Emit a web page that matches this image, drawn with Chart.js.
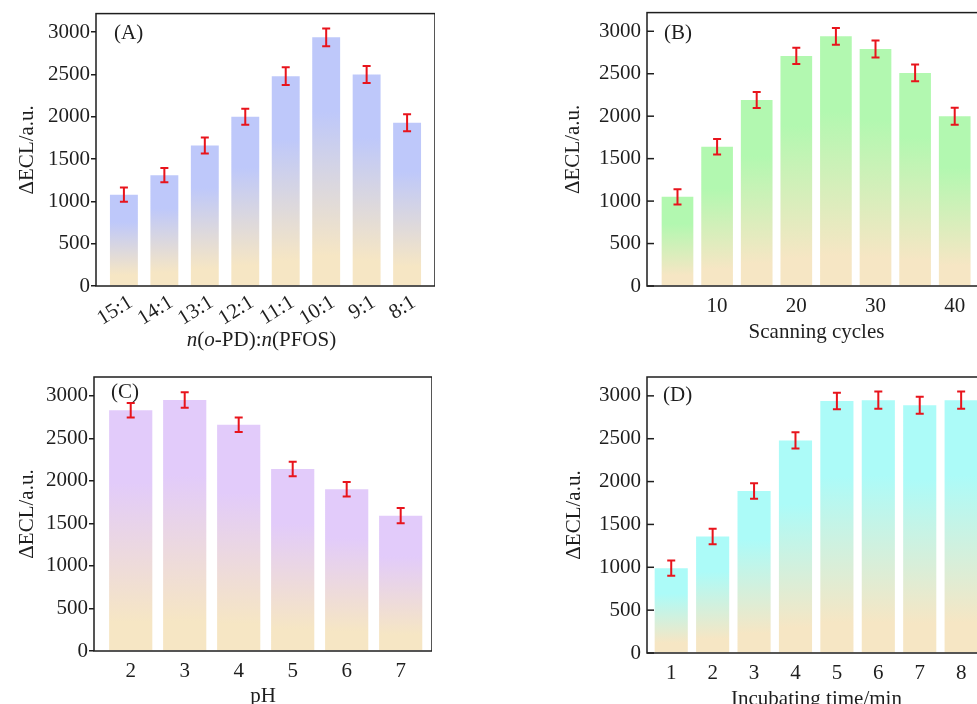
<!DOCTYPE html>
<html>
<head>
<meta charset="utf-8">
<script src="https://cdn.jsdelivr.net/npm/chart.js@4.4.1/dist/chart.umd.min.js"></script>
<style>
html, body { margin: 0; padding: 0; background: #fff; overflow: hidden; width: 977px; height: 704px; }
canvas { position: absolute; }
</style>
</head>
<body>
<canvas id="chartA"></canvas>
<canvas id="chartB"></canvas>
<canvas id="chartC"></canvas>
<canvas id="chartD"></canvas>
<script>
// (A) molar ratio
var ratioLabels = ['15:1', '14:1', '13:1', '12:1', '11:1', '10:1', '9:1', '8:1'];
var ratioX = [1, 2, 3, 4, 5, 6, 7, 8];
var ratioValues = [1080, 1310, 1660, 2000, 2480, 2940, 2500, 1930];
var ratioErrors = [85, 85, 95, 95, 105, 105, 100, 100];

// (B) scanning cycles
var cycleX = [5, 10, 15, 20, 25, 30, 35, 40];
var cycleTicks = [10, 20, 30, 40];
var cycleValues = [1050, 1640, 2190, 2710, 2940, 2790, 2510, 2000];
var cycleErrors = [90, 90, 95, 95, 100, 100, 100, 100];

// (C) pH
var phX = [2, 3, 4, 5, 6, 7];
var phValues = [2830, 2950, 2660, 2140, 1900, 1590];
var phErrors = [85, 90, 85, 85, 85, 90];

// (D) incubating time
var timeX = [1, 2, 3, 4, 5, 6, 7, 8];
var timeValues = [990, 1360, 1890, 2480, 2940, 2950, 2890, 2950];
var timeErrors = [90, 90, 90, 95, 95, 100, 100, 100];

var yTicks = [0, 500, 1000, 1500, 2000, 2500, 3000];
var yTitle = '\u0394ECL/a.u.';

var ink = '#1e1e1e';
var beige = '#f6e6c4';
var family = 'Liberation Serif';
var size = 21;

function barFill(top) {
    return function (c) {
        var chart = c.chart;
        if (!chart.chartArea || c.type !== 'data') return top;
        var y = chart.scales.y;
        var y1 = y.getPixelForValue(c.raw.y);
        var y0 = y.getPixelForValue(0);
        var g = chart.ctx.createLinearGradient(0, y1, 0, y0);
        g.addColorStop(0, top);
        g.addColorStop(0.3, top);
        g.addColorStop(0.88, beige);
        g.addColorStop(1, beige);
        return g;
    };
}

var decorate = {
    id: 'decorate',
    afterDatasetsDraw: function (chart, args, opts) {
        var ctx = chart.ctx;
        var area = chart.chartArea;
        var y = chart.scales.y;
        var meta = chart.getDatasetMeta(0);
        var points = chart.data.datasets[0].data;
        ctx.save();
        // error bars
        ctx.strokeStyle = '#e8141c';
        ctx.lineWidth = 2;
        meta.data.forEach(function (bar, i) {
            var v = points[i].y, e = opts.errors[i];
            var top = y.getPixelForValue(v + e), bot = y.getPixelForValue(v - e);
            ctx.beginPath();
            ctx.moveTo(bar.x, top); ctx.lineTo(bar.x, bot);
            ctx.moveTo(bar.x - 4, top); ctx.lineTo(bar.x + 4, top);
            ctx.moveTo(bar.x - 4, bot); ctx.lineTo(bar.x + 4, bot);
            ctx.stroke();
        });
        // frame
        ctx.strokeStyle = ink;
        ctx.lineWidth = 1.5;
        ctx.strokeRect(area.left, area.top, area.right - area.left, area.bottom - area.top);
        if (opts.innerTicks) {
            y.ticks.forEach(function (t) {
                var py = y.getPixelForValue(t.value);
                ctx.beginPath();
                ctx.moveTo(area.left, py);
                ctx.lineTo(area.left + 7, py);
                ctx.stroke();
            });
        }
        // panel tag
        ctx.fillStyle = ink;
        ctx.font = size + 'px "' + family + '"';
        ctx.textAlign = 'left';
        ctx.textBaseline = 'middle';
        ctx.fillText(opts.tag, area.left + opts.tagX, area.top + opts.tagY);
        // x title with italic parts
        if (opts.titleParts) {
            var widths = opts.titleParts.map(function (p) {
                ctx.font = (p[1] ? 'italic ' : '') + size + 'px "' + family + '"';
                return ctx.measureText(p[0]).width;
            });
            var total = widths.reduce(function (a, b) { return a + b; }, 0);
            var x = (area.left + area.right) / 2 - total / 2 + opts.titleShift;
            opts.titleParts.forEach(function (p, i) {
                ctx.font = (p[1] ? 'italic ' : '') + size + 'px "' + family + '"';
                ctx.fillText(p[0], x, opts.titleY);
                x += widths[i];
            });
        }
        ctx.restore();
    }
};

function makePanel(id, box, xs, values, cfg) {
    var canvas = document.getElementById(id);
    canvas.width = box.w;
    canvas.height = box.h;
    canvas.style.left = box.x + 'px';
    canvas.style.top = box.y + 'px';
    var points = xs.map(function (x, i) { return { x: x, y: values[i] }; });
    var outerTicks = !cfg.innerTicks;
    return new Chart(canvas, {
        type: 'bar',
        data: {
            datasets: [{
                data: points,
                backgroundColor: barFill(cfg.color),
                borderWidth: 0,
                barPercentage: cfg.barWidth,
                categoryPercentage: 1
            }]
        },
        options: {
            responsive: false,
            animation: false,
            events: [],
            layout: { padding: { top: box.padTop, left: 0, right: 0, bottom: 0 } },
            plugins: {
                legend: { display: false },
                tooltip: { enabled: false },
                decorate: {
                    errors: cfg.errors,
                    innerTicks: cfg.innerTicks,
                    tag: cfg.tag,
                    tagX: cfg.tagX,
                    tagY: cfg.tagY,
                    titleParts: cfg.titleParts,
                    titleY: cfg.titleY,
                    titleShift: cfg.titleShift || 0
                }
            },
            scales: {
                x: {
                    type: 'linear',
                    offset: false,
                    min: cfg.xMin,
                    max: cfg.xMax,
                    afterBuildTicks: function (s) {
                        s.ticks = cfg.xTicks.map(function (v) { return { value: v }; });
                    },
                    afterFit: function (s) { s.height = box.xh; },
                    grid: { display: false, drawTicks: false, offset: false },
                    border: { display: false },
                    ticks: {
                        autoSkip: false,
                        color: ink,
                        font: { family: family, size: size },
                        padding: cfg.xPad,
                        labelOffset: cfg.labelOffset || 0,
                        minRotation: cfg.rotation || 0,
                        maxRotation: cfg.rotation || 0,
                        callback: cfg.tickLabel || function (v) { return String(v); }
                    },
                    title: {
                        display: !!cfg.xTitle,
                        text: cfg.xTitle || '',
                        color: ink,
                        font: { family: family, size: size },
                        padding: { top: 4, bottom: 4 }
                    }
                },
                y: {
                    min: 0,
                    max: 3220,
                    afterBuildTicks: function (s) {
                        s.ticks = yTicks.map(function (v) { return { value: v }; });
                    },
                    afterFit: function (s) { s.width = box.yw; },
                    grid: {
                        display: true,
                        drawOnChartArea: false,
                        drawTicks: true,
                        tickLength: outerTicks ? 5 : 6,
                        color: outerTicks ? ink : 'rgba(0,0,0,0)',
                        lineWidth: 1.5
                    },
                    border: { display: false },
                    ticks: {
                        color: ink,
                        font: { family: family, size: size },
                        padding: outerTicks ? 1 : 0,
                        callback: function (v) { return String(v); }
                    },
                    title: {
                        display: true,
                        text: yTitle,
                        color: ink,
                        font: { family: family, size: size },
                        padding: { top: 4, bottom: 4 }
                    }
                }
            }
        },
        plugins: [decorate]
    });
}

makePanel('chartA', { x: 11, y: 0, w: 424, h: 356, padTop: 12, yw: 85, xh: 70 }, ratioX, ratioValues, {
    color: '#bec8fa', barWidth: 0.69, errors: ratioErrors,
    xMin: 0.31, xMax: 8.69, xTicks: ratioX, rotation: 32, xPad: 4, labelOffset: 7,
    tickLabel: function (v) { return ratioLabels[v - 1]; },
    titleParts: [['n', true], ['(', false], ['o', true], ['-PD):', false], ['n', true], ['(PFOS)', false]],
    titleY: 340, titleShift: -4,
    tag: '(A)', tagX: 18, tagY: 20
});

makePanel('chartB', { x: 557, y: 0, w: 429, h: 349, padTop: 11, yw: 90, xh: 63 }, cycleX, cycleValues, {
    color: '#b2f8b0', barWidth: 0.8, errors: cycleErrors, innerTicks: true,
    xMin: 1.15, xMax: 43.95, xTicks: cycleTicks, xPad: 8,
    xTitle: 'Scanning cycles',
    tag: '(B)', tagX: 17, tagY: 21
});

makePanel('chartC', { x: 11, y: 360, w: 421, h: 353, padTop: 17, yw: 83, xh: 62 }, phX, phValues, {
    color: '#e2cbfa', barWidth: 0.8, errors: phErrors,
    xMin: 1.32, xMax: 7.58, xTicks: phX, xPad: 8,
    xTitle: 'pH',
    tag: '(C)', tagX: 17, tagY: 15
});

makePanel('chartD', { x: 558, y: 360, w: 428, h: 356, padTop: 17, yw: 89, xh: 63 }, timeX, timeValues, {
    color: '#acfbf8', barWidth: 0.8, errors: timeErrors, innerTicks: true,
    xMin: 0.415, xMax: 8.6, xTicks: timeX, xPad: 8,
    xTitle: 'Incubating time/min',
    tag: '(D)', tagX: 16, tagY: 18
});
</script>
</body>
</html>
